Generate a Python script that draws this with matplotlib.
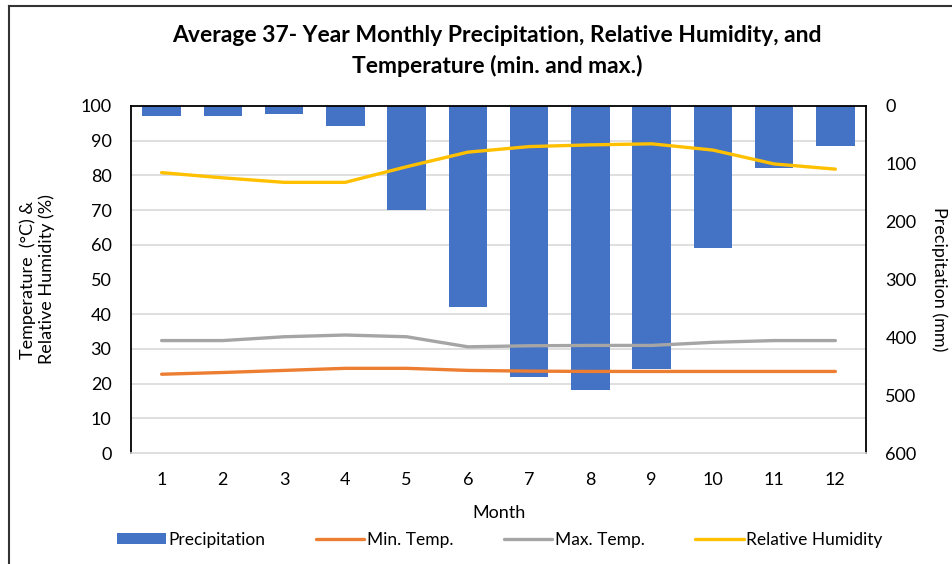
import numpy as np
import matplotlib.pyplot as plt
from matplotlib.lines import Line2D

# -------------------------------
# Data
# -------------------------------
months = [1, 2, 3, 4, 5, 6, 7, 8, 9, 10, 11, 12]
precip = [17, 17, 14, 34, 180, 347, 468, 491, 455, 246, 107, 70]          # mm (right axis, inverted)
min_temp = [22.7, 23.2, 23.8, 24.4, 24.4, 23.8, 23.6, 23.5, 23.5, 23.5, 23.5, 23.5]
max_temp = [32.4, 32.4, 33.5, 34.0, 33.5, 30.6, 30.9, 31.0, 31.0, 31.9, 32.4, 32.4]
rel_hum = [80.8, 79.3, 78.0, 78.0, 82.5, 86.7, 88.3, 88.8, 89.1, 87.3, 83.3, 81.8]

plt.rcParams['font.family'] = ['Lato', 'DejaVu Sans']
FS = 13

fig = plt.figure(figsize=(9.52, 5.64), dpi=100)
ax = fig.add_axes([131 / 952, 111 / 564, 735 / 952, 347 / 564])
ax2 = ax.twinx()

# bars hang from the top on the precipitation axis (right)
bars = ax.bar(months, precip, width=0.63, color='#4472C4', zorder=2, label='Precipitation')
ax.set_ylim(600, 0)
ax.set_xlim(0.5, 12.5)
ax.yaxis.tick_right()
ax.yaxis.set_label_position('right')
ax.set_yticks(np.arange(0, 601, 100))
ax.set_yticks(np.arange(0, 601, 60), minor=True)
ax.grid(which='minor', axis='y', color='#d9d9d9', linewidth=1.2, zorder=0)
ax.tick_params(axis='y', which='both', length=0, labelsize=FS, pad=14)
ax.tick_params(axis='x', length=0, labelsize=FS, pad=14)
ax.set_xticks(months)
ax.set_ylabel('Precipitation (mm)', fontsize=FS, rotation=-90, labelpad=22)
ax.set_xlabel('Month', fontsize=FS, labelpad=12)
for s in ['top', 'left', 'right']:
    ax.spines[s].set_color('black')
    ax.spines[s].set_linewidth(1.3)
ax.spines['bottom'].set_color('#d9d9d9')
ax.spines['bottom'].set_linewidth(1.2)

# lines on the left axis
ax2.yaxis.tick_left()
ax2.yaxis.set_label_position('left')
l1, = ax2.plot(months, min_temp, color='#ED7D31', lw=2.4, solid_capstyle='round', label='Min. Temp.')
l2, = ax2.plot(months, max_temp, color='#A5A5A5', lw=2.4, solid_capstyle='round', label='Max. Temp.')
l3, = ax2.plot(months, rel_hum, color='#FFC000', lw=2.4, solid_capstyle='round', label='Relative Humidity')
ax2.set_ylim(0, 100)
ax2.set_yticks(np.arange(0, 101, 10))
ax2.tick_params(axis='y', length=0, labelsize=FS, pad=14)
ax2.set_ylabel('Temperature  (°C) &\nRelative Humidity (%)', fontsize=FS, labelpad=18)
for s in ax2.spines.values():
    s.set_visible(False)

fig.suptitle('Average 37- Year Monthly Precipitation, Relative Humidity, and\nTemperature (min. and max.)',
             x=0.522, y=0.955, fontsize=16.5, fontweight='bold', linespacing=1.5)

fig.legend([bars, l1, l2, l3], ['Precipitation', 'Min. Temp.', 'Max. Temp.', 'Relative Humidity'],
           loc='center', bbox_to_anchor=(0.525, 0.043), ncol=4, frameon=False,
           fontsize=12.5, handlelength=2.8, handletextpad=0.15, columnspacing=2.9,
           handleheight=0.6)

# outer frame (top and left edges only)
fig.add_artist(Line2D([9 / 952, 9 / 952], [0, 1 - 6 / 564], color='#333333', lw=1.5))
fig.add_artist(Line2D([9 / 952, 1], [1 - 6 / 564, 1 - 6 / 564], color='#333333', lw=1.5))

fig.savefig('out.png', dpi=100)
